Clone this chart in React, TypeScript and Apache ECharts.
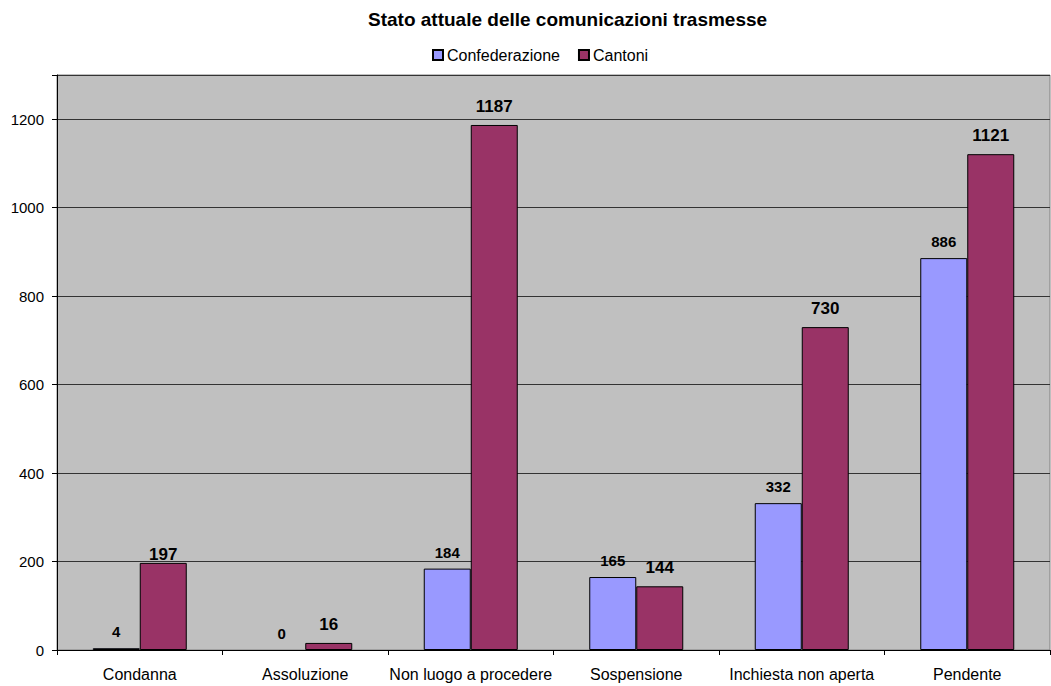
import React, { useEffect, useRef } from "react";
import * as echarts from "echarts";

const titleText = "Stato attuale delle comunicazioni trasmesse";
const categories = [
  "Condanna",
  "Assoluzione",
  "Non luogo a procedere",
  "Sospensione",
  "Inchiesta non aperta",
  "Pendente",
];
const seriesNames = ["Confederazione", "Cantoni"];
const confederazione = [4, 0, 184, 165, 332, 886];
const cantoni = [197, 16, 1187, 144, 730, 1121];
const yTicks = [0, 200, 400, 600, 800, 1000, 1200];

const FONT = "'Liberation Sans', Arial, sans-serif";

export default function App() {
  const ref = useRef<HTMLDivElement>(null);
  useEffect(() => {
    if (!ref.current) return;
    const chart = echarts.init(ref.current, null, { renderer: "svg" });
    chart.setOption({
      animation: false,
      backgroundColor: "#ffffff",
      textStyle: { fontFamily: FONT },
      title: {
        text: titleText,
        left: 368,
        top: 10,
        padding: 0,
        textStyle: { fontFamily: FONT, fontSize: 19, fontWeight: "bold", color: "#000" },
      },
      legend: {
        left: 432,
        top: 47,
        padding: 0,
        itemWidth: 10,
        itemHeight: 10,
        itemGap: 18,
        icon: "rect",
        textStyle: { fontFamily: FONT, fontSize: 16, color: "#000", padding: [0, 0, 0, -1] },
        data: seriesNames,
      },
      grid: {
        left: 57,
        right: 1,
        top: 75,
        bottom: 36,
        show: true,
        backgroundColor: "#C0C0C0",
        borderColor: "#808080",
        borderWidth: 1,
      },
      xAxis: {
        type: "category",
        data: categories,
        axisLine: { lineStyle: { color: "#000", width: 1 } },
        axisTick: { show: true, length: 5, alignWithLabel: false, lineStyle: { color: "#000" } },
        axisLabel: { fontFamily: FONT, fontSize: 16, color: "#000", margin: 16, interval: 0, hideOverlap: false },
      },
      yAxis: {
        type: "value",
        min: 0,
        max: 1300,
        interval: 200,
        axisLine: { show: true, lineStyle: { color: "#000", width: 1 } },
        axisTick: { show: true, length: 5, lineStyle: { color: "#000" } },
        axisLabel: {
          fontFamily: FONT,
          fontSize: 15,
          color: "#000",
          margin: 13,
          formatter: (v: number) => (yTicks.includes(v) ? String(v) : ""),
        },
        splitLine: { show: true, lineStyle: { color: "#333333", width: 1 } },
      },
      series: [
        {
          name: seriesNames[0],
          type: "bar",
          data: confederazione.map((v) =>
            v === 0 ? { value: v, itemStyle: { borderWidth: 0 } } : v
          ),
          barWidth: 47,
          barGap: "0%",
          itemStyle: { color: "#9999FF", borderColor: "#000", borderWidth: 1 },
          label: {
            show: true,
            position: "top",
            distance: 9,
            fontFamily: FONT,
            fontSize: 15,
            fontWeight: "bold",
            color: "#000",
          },
        },
        {
          name: seriesNames[1],
          type: "bar",
          data: cantoni.map((v, i) =>
            i === 0 ? { value: v, label: { distance: 0 } } : v
          ),
          barWidth: 47,
          barGap: "0%",
          itemStyle: { color: "#993366", borderColor: "#000", borderWidth: 1 },
          label: {
            show: true,
            position: "top",
            distance: 10,
            fontFamily: FONT,
            fontSize: 17,
            fontWeight: "bold",
            color: "#000",
          },
        },
      ],
    });
    return () => chart.dispose();
  }, []);
  return <div ref={ref} style={{ width: 1051, height: 686, position: "absolute", left: 0, top: 0 }} />;
}
